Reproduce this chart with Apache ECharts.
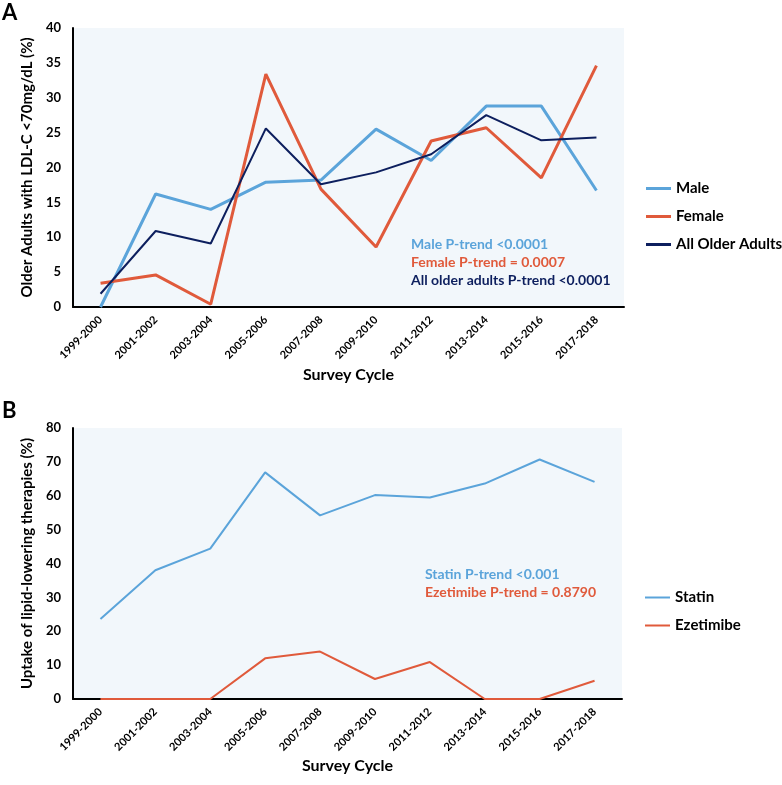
<!DOCTYPE html>
<html>
<head>
<meta charset="utf-8">
<script src="https://cdn.jsdelivr.net/npm/echarts@6/dist/echarts.min.js"></script>
<style>
  html, body { margin: 0; padding: 0; background: #fff; }
  #chart { width: 782px; height: 785px; }
</style>
</head>
<body>
<div id="chart"></div>
<script>
// survey cycles shared by both panels
var cycles = ['1999-2000', '2001-2002', '2003-2004', '2005-2006', '2007-2008',
              '2009-2010', '2011-2012', '2013-2014', '2015-2016', '2017-2018'];

// panel A: LDL-C < 70 mg/dL (%)
var maleVals = [0, 16.2, 14.0, 17.9, 18.2, 25.5, 21.0, 28.8, 28.8, 16.7];
var femaleVals = [3.4, 4.6, 0.4, 33.4, 16.9, 8.6, 23.8, 25.7, 18.5, 34.6];
var allVals = [1.9, 10.9, 9.1, 25.6, 17.6, 19.3, 21.9, 27.5, 23.9, 24.3];

// panel B: uptake of lipid-lowering therapies (%)
var statinVals = [23.6, 38.0, 44.4, 66.9, 54.2, 60.2, 59.5, 63.6, 70.7, 64.1];
var ezetimibeVals = [0, 0, 0, 12.0, 14.0, 5.9, 10.9, 0, 0, 5.4];

var FONT = 'Lato';
var BLUE = '#5ba4da';
var RED = '#e05a3b';
var NAVY = '#0d1f5e';

function xAxisFor(idx, gap) {
  return {
    type: 'category',
    gridIndex: idx,
    data: cycles,
    boundaryGap: true,
    axisLine: { lineStyle: { color: '#000', width: 2 } },
    axisTick: { show: false },
    axisLabel: { rotate: 45, color: '#000', fontFamily: FONT, fontWeight: 'bold', fontSize: 11, margin: 11, interval: 0 },
    name: 'Survey Cycle',
    nameLocation: 'middle',
    nameGap: gap,
    nameMoveOverlap: false,
    nameTextStyle: { color: '#000', fontFamily: FONT, fontWeight: 'bold', fontSize: 16, verticalAlign: 'top' }
  };
}

function yAxisFor(idx, max, step, title) {
  return {
    type: 'value',
    gridIndex: idx,
    min: 0, max: max, interval: step,
    splitLine: { show: false },
    axisLine: { show: true, lineStyle: { color: '#000', width: 2 } },
    axisTick: { show: false },
    axisLabel: { color: '#000', fontFamily: FONT, fontWeight: 'bold', fontSize: 13, margin: 12 },
    name: title,
    nameLocation: 'middle',
    nameRotate: 90,
    nameGap: 38,
    nameMoveOverlap: false,
    nameTextStyle: { color: '#000', fontFamily: FONT, fontWeight: 'bold', fontSize: 15 }
  };
}

function lineSeries(name, data, color, width, xi) {
  return {
    name: name, type: 'line', data: data,
    xAxisIndex: xi, yAxisIndex: xi,
    symbol: 'none', smooth: false,
    lineStyle: { color: color, width: width },
    itemStyle: { color: color },
    z: 3
  };
}

var legendText = { color: '#000', fontFamily: FONT, fontWeight: 'bold', fontSize: 15 };
var noteStyle = function (color) {
  return { fill: color, font: 'bold 14px ' + FONT };
};

var chart = echarts.init(document.getElementById('chart'), null, { renderer: 'canvas' });
chart.setOption({
  animation: false,
  backgroundColor: '#fff',
  grid: [
    { left: 73, top: 28, width: 551, height: 279, show: true, backgroundColor: '#f2f7fb', borderWidth: 0 },
    { left: 73, top: 428, width: 549, height: 271, show: true, backgroundColor: '#f2f7fb', borderWidth: 0 }
  ],
  xAxis: [xAxisFor(0, 60), xAxisFor(1, 59)],
  yAxis: [
    yAxisFor(0, 40, 5, 'Older Adults with LDL-C <70mg/dL (%)'),
    yAxisFor(1, 80, 10, 'Uptake of lipid-lowering therapies (%)')
  ],
  legend: [
    {
      data: ['Male', 'Female', 'All Older Adults'],
      orient: 'vertical', left: 641, top: 176,
      icon: 'rect', itemWidth: 25, itemHeight: 3, itemGap: 13,
      textStyle: legendText
    },
    {
      data: ['Statin', 'Ezetimibe'],
      orient: 'vertical', left: 640, top: 585,
      icon: 'rect', itemWidth: 25, itemHeight: 2, itemGap: 13,
      textStyle: legendText
    }
  ],
  series: [
    lineSeries('Male', maleVals, BLUE, 3, 0),
    lineSeries('Female', femaleVals, RED, 3, 0),
    lineSeries('All Older Adults', allVals, NAVY, 2, 0),
    lineSeries('Statin', statinVals, BLUE, 2, 1),
    lineSeries('Ezetimibe', ezetimibeVals, RED, 2, 1)
  ],
  graphic: [
    { type: 'text', left: 2, top: 2, style: { text: 'A', fill: '#000', font: 'bold 22px ' + FONT } },
    { type: 'text', left: 2, top: 400, style: { text: 'B', fill: '#000', font: 'bold 22px ' + FONT } },
    { type: 'text', left: 411, top: 237, style: Object.assign({ text: 'Male P-trend <0.0001' }, noteStyle(BLUE)) },
    { type: 'text', left: 411, top: 255, style: Object.assign({ text: 'Female P-trend = 0.0007' }, noteStyle(RED)) },
    { type: 'text', left: 411, top: 273, style: Object.assign({ text: 'All older adults P-trend <0.0001' }, noteStyle(NAVY)) },
    { type: 'text', left: 425, top: 567, style: Object.assign({ text: 'Statin P-trend <0.001' }, noteStyle(BLUE)) },
    { type: 'text', left: 425, top: 585, style: Object.assign({ text: 'Ezetimibe P-trend = 0.8790' }, noteStyle(RED)) }
  ]
});
</script>
</body>
</html>
